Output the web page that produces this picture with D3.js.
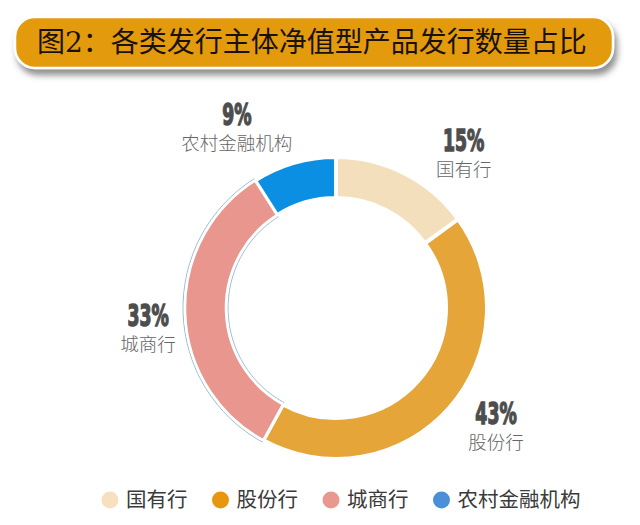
<!DOCTYPE html>
<html>
<head>
<meta charset="utf-8">
<script src="https://cdn.jsdelivr.net/npm/d3@7"></script>
<style>
  body { margin: 0; background: #fff; }
  svg { display: block; }
</style>
</head>
<body>
<div id="chart-area"></div>
<script>
// data
var categories = ["国有行", "股份行", "城商行", "农村金融机构"];
var shares = [15, 43, 33, 9];
var sliceColors = ["#f4dfbc", "#e5a538", "#e9978e", "#0b8fe2"];
var legendColors = ["#f6e0bd", "#e8960e", "#e9988f", "#4b8fd8"];
var title = "图2：各类发行主体净值型产品发行数量占比";

var width = 640, height = 525;
var cx = 336, cy = 308;
var outerR = 151, innerR = 110;

var svg = d3.select("#chart-area")
        .append("svg")
                .attr("width", width)
                .attr("height", height);

var defs = svg.append("defs");
var f = defs.append("filter")
        .attr("id", "shadow")
        .attr("x", "-5%").attr("y", "-30%")
        .attr("width", "115%").attr("height", "180%");
f.append("feDropShadow")
        .attr("dx", 3).attr("dy", 6)
        .attr("stdDeviation", 3)
        .attr("flood-color", "#555")
        .attr("flood-opacity", 0.65);

// title banner
svg.append("rect")
        .attr("x", 15).attr("y", 17)
        .attr("width", 598).attr("height", 51)
        .attr("rx", 20).attr("ry", 20)
        .attr("fill", "#e39a10")
        .attr("stroke", "#fff")
        .attr("stroke-width", 2.5)
        .attr("filter", "url(#shadow)");

svg.append("text")
        .attr("x", 37).attr("y", 52)
        .attr("font-family", "'DejaVu Serif', 'Noto Sans CJK SC', serif")
        .attr("font-size", "28px")
        .attr("fill", "#1a1208")
        .text(title);

// donut
var pie = d3.pie().sort(null).value(d => d);
var arcs = pie(shares);

var arc = d3.arc().innerRadius(innerR).outerRadius(outerR);

var g = svg.append("g")
        .attr("transform", "translate(" + cx + "," + cy + ")");

g.selectAll("path.slice")
        .data(arcs)
        .enter()
        .append("path")
        .attr("class", "slice")
        .attr("d", arc)
        .attr("fill", (d, i) => sliceColors[i])
        .attr("stroke", "#fff")
        .attr("stroke-width", 4);

// the 城商行 slice carries a thin outline in the source
var outline = d3.arc().innerRadius(innerR - 2).outerRadius(outerR + 2);
g.append("path")
        .attr("d", outline(arcs[2]))
        .attr("fill", "none")
        .attr("stroke", "#8fb6d3")
        .attr("stroke-width", 0.9);
g.append("path")
        .attr("d", arc(arcs[2]))
        .attr("fill", sliceColors[2])
        .attr("stroke", "#fff")
        .attr("stroke-width", 2.5);

// data labels
var labelArc = d3.arc().innerRadius(180).outerRadius(180);
var nudge = [[46, 3], [25, -3], [-8, 12], [-49, -10]];

var labels = g.selectAll("g.lbl")
        .data(arcs)
        .enter()
        .append("g")
        .attr("class", "lbl")
        .attr("transform", (d, i) => {
                var c = labelArc.centroid(d);
                return "translate(" + (c[0] + nudge[i][0]) + "," + (c[1] + nudge[i][1]) + ")";
        });

labels.append("text")
        .attr("text-anchor", "middle")
        .attr("transform", "scale(0.64,1)")
        .attr("font-family", "'Liberation Sans Narrow', 'DejaVu Sans Condensed', sans-serif")
        .attr("font-weight", "bold")
        .attr("font-size", "30px")
        .attr("fill", "#4d4d4d")
        .attr("stroke", "#4d4d4d")
        .attr("stroke-width", 1.4)
        .text(d => d.data + "%");

labels.append("text")
        .attr("text-anchor", "middle")
        .attr("y", 25)
        .attr("font-family", "'Noto Sans CJK SC', sans-serif")
        .attr("font-weight", 300)
        .attr("font-size", "18.5px")
        .attr("fill", "#666")
        .text((d, i) => categories[i]);

// legend
var legend = svg.append("g")
        .attr("transform", "translate(101.5,500)");

var lx = 0;
categories.forEach((c, i) => {
        var item = legend.append("g").attr("transform", "translate(" + lx + ",0)");
        item.append("circle")
                .attr("cx", 8.5).attr("cy", 0)
                .attr("r", 8.5)
                .attr("fill", legendColors[i]);
        var t = item.append("text")
                .attr("x", 24.5).attr("y", 7)
                .attr("font-family", "'DejaVu Serif', 'Noto Sans CJK SC', serif")
                .attr("font-size", "20.5px")
                .attr("fill", "#3a3a3a")
                .text(c);
        lx += 24.5 + t.node().getComputedTextLength() + 33 - 8.5;
});
</script>
</body>
</html>
